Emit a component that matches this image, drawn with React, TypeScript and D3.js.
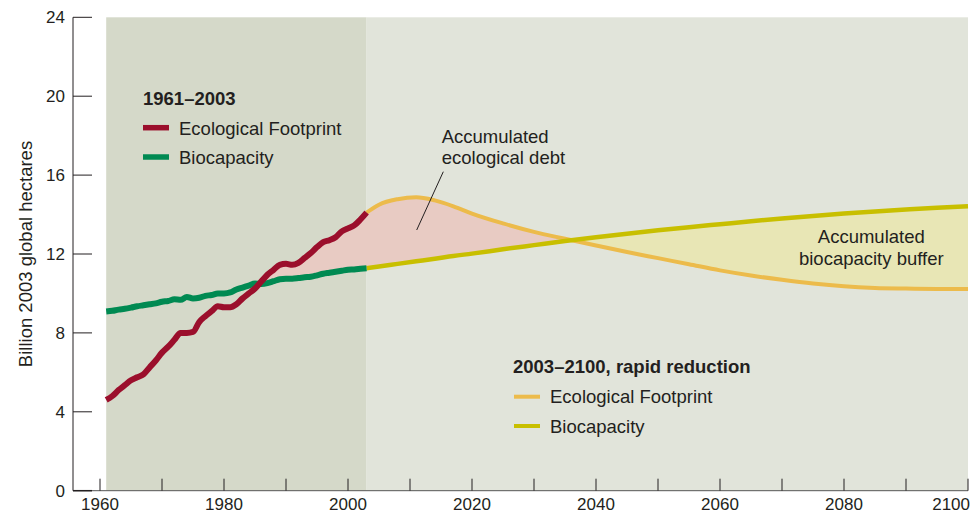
import React from "react";
import * as d3 from "d3";

// Historic data 1961–2003 (billion 2003 global hectares)
const histYears: number[] = d3.range(1961, 2004);
const histFootprint: number[] = [
  4.6, 4.8, 5.1, 5.35, 5.6, 5.75, 5.9, 6.25, 6.6, 7.0,
  7.3, 7.65, 8.0, 8.0, 8.05, 8.55, 8.85, 9.1, 9.35, 9.3,
  9.3, 9.45, 9.75, 10.0, 10.25, 10.6, 10.95, 11.2, 11.45, 11.5,
  11.45, 11.55, 11.8, 12.05, 12.35, 12.6, 12.7, 12.85, 13.15, 13.3,
  13.45, 13.75, 14.1,
];
const histBiocapacity: number[] = [
  9.08, 9.12, 9.18, 9.22, 9.28, 9.35, 9.4, 9.45, 9.5, 9.58,
  9.62, 9.7, 9.68, 9.82, 9.75, 9.78, 9.88, 9.92, 10.0, 10.0,
  10.05, 10.2, 10.3, 10.4, 10.5, 10.48, 10.52, 10.62, 10.72, 10.75,
  10.75, 10.78, 10.82, 10.85, 10.92, 11.0, 11.05, 11.1, 11.15, 11.2,
  11.22, 11.25, 11.28,
];

// Scenario 2003–2100, rapid reduction
const futureYears: number[] = [
  2003, 2005, 2008, 2011, 2014, 2017, 2020, 2025, 2030, 2035, 2040, 2045,
  2050, 2055, 2060, 2065, 2070, 2075, 2080, 2085, 2090, 2095, 2100,
];
const futureFootprint: number[] = [
  14.1, 14.5, 14.78, 14.88, 14.72, 14.42, 14.05, 13.55, 13.12, 12.77, 12.43, 12.1,
  11.79, 11.48, 11.17, 10.91, 10.69, 10.5, 10.36, 10.28, 10.25, 10.23, 10.22,
];
const futureBiocapacity: number[] = [
  11.28, 11.37, 11.5, 11.63, 11.76, 11.9, 12.02, 12.24, 12.45, 12.66, 12.85, 13.03,
  13.2, 13.36, 13.51, 13.66, 13.8, 13.93, 14.05, 14.16, 14.26, 14.35, 14.42,
];

const yTicks: number[] = [0, 4, 8, 12, 16, 20, 24];
const xTicks: number[] = d3.range(1960, 2101, 10);
const xLabels: number[] = [1960, 1980, 2000, 2020, 2040, 2060, 2080, 2100];

type P = [number, number];

export default function App() {
  const W = 972, H = 515;
  const x = d3.scaleLinear().domain([1960, 2100]).range([100, 968]);
  const y = d3.scaleLinear().domain([0, 24]).range([490.7, 17.3]);
  const top = y(24), bottom = y(0);
  const axisX = 73;
  const font = "'Liberation Sans', Arial, Helvetica, sans-serif";
  const ink = "#231f20";

  const hFP: P[] = histYears.map((yr, i) => [yr, histFootprint[i]]);
  const hBC: P[] = histYears.map((yr, i) => [yr, histBiocapacity[i]]);
  const fFP: P[] = futureYears.map((yr, i) => [yr, futureFootprint[i]]);
  const fBC: P[] = futureYears.map((yr, i) => [yr, futureBiocapacity[i]]);
  const allFP: P[] = hFP.concat(fFP.slice(1));
  const allBC: P[] = hBC.concat(fBC.slice(1));

  const curve = d3.curveMonotoneX;
  const line = d3.line<P>().x(d => x(d[0])).y(d => y(d[1])).curve(curve);
  const areaBelow = d3.area<P>().x(d => x(d[0])).y0(bottom).y1(d => y(d[1])).curve(curve);
  const areaAbove = d3.area<P>().x(d => x(d[0])).y0(top).y1(d => y(d[1])).curve(curve);

  const fs = 18.5;

  return (
    <svg width={W} height={H} style={{ position: "absolute", left: 0, top: 0 }} fontFamily={font}>
      <defs>
        <clipPath id="belowFP"><path d={areaBelow(allFP) || ""} /></clipPath>
        <clipPath id="belowBC"><path d={areaBelow(allBC) || ""} /></clipPath>
      </defs>
      <rect x={0} y={0} width={W} height={H} fill="#ffffff" />
      {/* backgrounds */}
      <rect x={x(1961)} y={top} width={x(2003) - x(1961)} height={bottom - top} fill="#d5d9c9" />
      <rect x={x(2003)} y={top} width={x(2100) - x(2003)} height={bottom - top} fill="#e1e4da" />

      {/* fills */}
      <path d={areaAbove(allBC) || ""} fill="#e8cbc3" clipPath="url(#belowFP)" />
      <path d={areaAbove(fFP) || ""} fill="#e8e6b5" clipPath="url(#belowBC)" />

      {/* axes */}
      <line x1={axisX} x2={axisX} y1={top} y2={bottom} stroke={ink} strokeWidth={1} />
      <line x1={axisX} x2={x(2100)} y1={bottom} y2={bottom} stroke="#555" strokeWidth={1} />
      {yTicks.map(t => (
        <g key={"y" + t}>
          <line x1={axisX} x2={axisX + 19} y1={y(t)} y2={y(t)} stroke={ink} strokeWidth={t === 0 ? 1.5 : 1} />
          <text x={65} y={y(t)} dy="0.36em" textAnchor="end" fontSize={17} fill={ink}>{t}</text>
        </g>
      ))}
      {xTicks.map(t => (
        <line key={"x" + t} x1={x(t)} x2={x(t)} y1={bottom} y2={bottom - 12} stroke={ink} strokeWidth={1} />
      ))}
      {xLabels.map(t => (
        <text key={"xl" + t} x={t === 2100 ? 970 : x(t)} y={510} textAnchor={t === 2100 ? "end" : "middle"} fontSize={17} fill={ink}>{t}</text>
      ))}
      <text transform={`translate(32,${(top + bottom) / 2}) rotate(-90)`} textAnchor="middle" fontSize={fs} fill={ink}>
        Billion 2003 global hectares
      </text>

      {/* lines */}
      <path d={line(fFP) || ""} fill="none" stroke="#ecbb4b" strokeWidth={4} />
      <path d={line(fBC) || ""} fill="none" stroke="#c8bf00" strokeWidth={4.5} />
      <path d={line(hBC) || ""} fill="none" stroke="#008a52" strokeWidth={6} />
      <path d={line(hFP) || ""} fill="none" stroke="#9b0f2c" strokeWidth={6} />

      {/* annotations */}
      <text x={441.7} y={143.3} fontSize={fs} fill={ink}>Accumulated</text>
      <text x={441.7} y={164.3} fontSize={fs} fill={ink}>ecological debt</text>
      <line x1={443.3} y1={171.7} x2={416.7} y2={230} stroke={ink} strokeWidth={1} />
      <text x={871.3} y={243.3} textAnchor="middle" fontSize={fs} fill={ink}>Accumulated</text>
      <text x={871.3} y={265} textAnchor="middle" fontSize={fs} fill={ink}>biocapacity buffer</text>

      {/* legend 1 */}
      <text x={143} y={105} fontSize={fs} fontWeight="bold" fill={ink}>1961–2003</text>
      <line x1={143} x2={169} y1={127.7} y2={127.7} stroke="#9b0f2c" strokeWidth={5.5} />
      <text x={179} y={135} fontSize={fs} fill={ink}>Ecological Footprint</text>
      <line x1={143} x2={169} y1={157} y2={157} stroke="#008a52" strokeWidth={5.5} />
      <text x={179} y={164} fontSize={fs} fill={ink}>Biocapacity</text>

      {/* legend 2 */}
      <text x={513} y={373.3} fontSize={fs} fontWeight="bold" fill={ink}>2003–2100, rapid reduction</text>
      <line x1={514} x2={540} y1={396.7} y2={396.7} stroke="#ecbb4b" strokeWidth={4} />
      <text x={550} y={403.3} fontSize={fs} fill={ink}>Ecological Footprint</text>
      <line x1={514} x2={540} y1={426} y2={426} stroke="#c8bf00" strokeWidth={4} />
      <text x={550} y={432.7} fontSize={fs} fill={ink}>Biocapacity</text>
    </svg>
  );
}
